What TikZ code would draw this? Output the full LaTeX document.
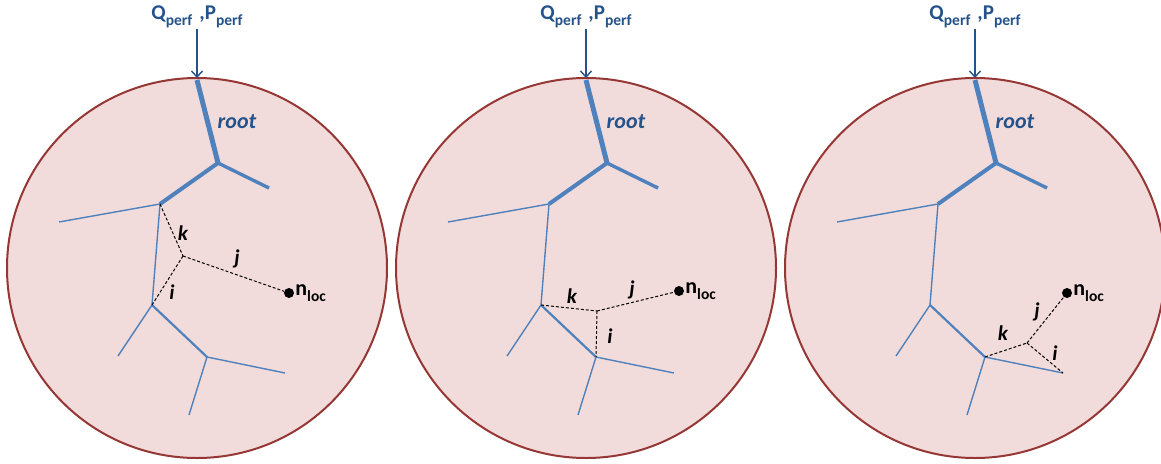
\documentclass[tikz,border=0pt]{standalone}
\usepackage{fontspec}
\setmainfont{Carlito}
\usetikzlibrary{arrows.meta}
\definecolor{cfill}{HTML}{F2DCDB}
\definecolor{cborder}{HTML}{953735}
\definecolor{vblue}{HTML}{4F81BD}
\definecolor{tblue}{HTML}{24528A}
\newcommand\subtxt[1]{\raisebox{-0.3em}{\fontsize{15.5}{15.5}\selectfont #1}}
\tikzset{
  region/.style={circle, draw=cborder, fill=cfill, line width=2pt, minimum size=380pt, inner sep=0pt, outer sep=0pt},
  flowlbl/.style={font=\bfseries\fontsize{21}{21}\selectfont, text=tblue, inner sep=1pt},
  rootlbl/.style={font=\bfseries\itshape\fontsize{22}{22}\selectfont, text=tblue, inner sep=1pt},
  seglbl/.style={font=\bfseries\itshape\fontsize{21}{21}\selectfont, inner sep=1pt},
  loclbl/.style={font=\bfseries\fontsize{22}{22}\selectfont, inner sep=1pt, anchor=west},
  inarrow/.style={draw=tblue, line width=1.4pt, -{Straight Barb[length=6pt,width=11pt,line width=1.4pt]}},
  vroot/.style={draw=vblue, line width=5pt},
  vthick/.style={draw=vblue, line width=4pt},
  vmid/.style={draw=vblue, line width=3.4pt},
  vmed/.style={draw=vblue, line width=2.2pt},
  vthin/.style={draw=vblue, line width=1.4pt},
  newseg/.style={draw=black, line width=1pt, dash pattern=on 3pt off 2pt},
  locdot/.style={circle, fill=black, inner sep=0pt, minimum size=10pt},
}
\newcommand\vtree[2]{%
  \begin{scope}[xshift=#2pt]
    \coordinate (#1T) at (197,80);
    \coordinate (#1A) at (218,163);
    \coordinate (#1B) at (269,188);
    \coordinate (#1C) at (160,204);
    \coordinate (#1D) at (59,222);
    \coordinate (#1E) at (152,305);
    \coordinate (#1F) at (118,356);
    \coordinate (#1G) at (207,357);
    \coordinate (#1H) at (285,373);
    \coordinate (#1I) at (189,415);
    \node[region] (#1circ) at (197,268) {};
    \node[flowlbl] (#1q) at (197,17) {Q\subtxt{perf}\,\,,P\subtxt{perf}};
    \node[rootlbl] (#1rootlbl) at (237,122) {root};
  \end{scope}
  \draw[inarrow] (#1q.south) -- (#1circ.north);
  \draw[vroot] (#1T) -- (#1A);
  \draw[vmid] (#1A) -- (#1B);
  \draw[vthick] (#1A) -- (#1C);
  \draw[vthin] (#1C) -- (#1D);
  \draw[vthin] (#1C) -- (#1E);
  \draw[vthin] (#1E) -- (#1F);
  \draw[vmed] (#1E) -- (#1G);
  \draw[vthin] (#1G) -- (#1H);
  \draw[vthin] (#1G) -- (#1I);
}
\begin{document}
\begin{tikzpicture}[x=1pt, y=-1pt]
  \useasboundingbox (0,0) rectangle (1161,463);
  \vtree{a}{0}
  \vtree{b}{389}
  \vtree{c}{778}
  % panel 1
  \coordinate (aX) at (183,256);
  \node[locdot] (aN) at (289,293) {};
  \draw[newseg] (aC) -- (aX);
  \draw[newseg] (aX) -- (aE);
  \draw[newseg] (aX) -- (aN);
  \node[seglbl] (ak) at (183,233) {k};
  \node[seglbl] (aj) at (237,259) {j};
  \node[seglbl] (ai) at (172,292) {i};
  \node[loclbl] (anl) at (aN.east) {n\subtxt{loc}};
  % panel 2
  \coordinate (bX) at (597,311);
  \node[locdot] (bN) at (679,291) {};
  \draw[newseg] (bE) -- (bX);
  \draw[newseg] (bX) -- (bG);
  \draw[newseg] (bX) -- (bN);
  \node[seglbl] (bk) at (572,296) {k};
  \node[seglbl] (bj) at (632,290) {j};
  \node[seglbl] (bi) at (610,336) {i};
  \node[loclbl] (bnl) at (bN.east) {n\subtxt{loc}};
  % panel 3
  \coordinate (cX) at (1027,343);
  \node[locdot] (cN) at (1067,293) {};
  \draw[newseg] (cG) -- (cX);
  \draw[newseg] (cX) -- (cH);
  \draw[newseg] (cX) -- (cN);
  \node[seglbl] (ck) at (1003,333) {k};
  \node[seglbl] (cj) at (1037,312) {j};
  \node[seglbl] (ci) at (1055,353) {i};
  \node[loclbl] (cnl) at (cN.east) {n\subtxt{loc}};
\end{tikzpicture}
\end{document}
